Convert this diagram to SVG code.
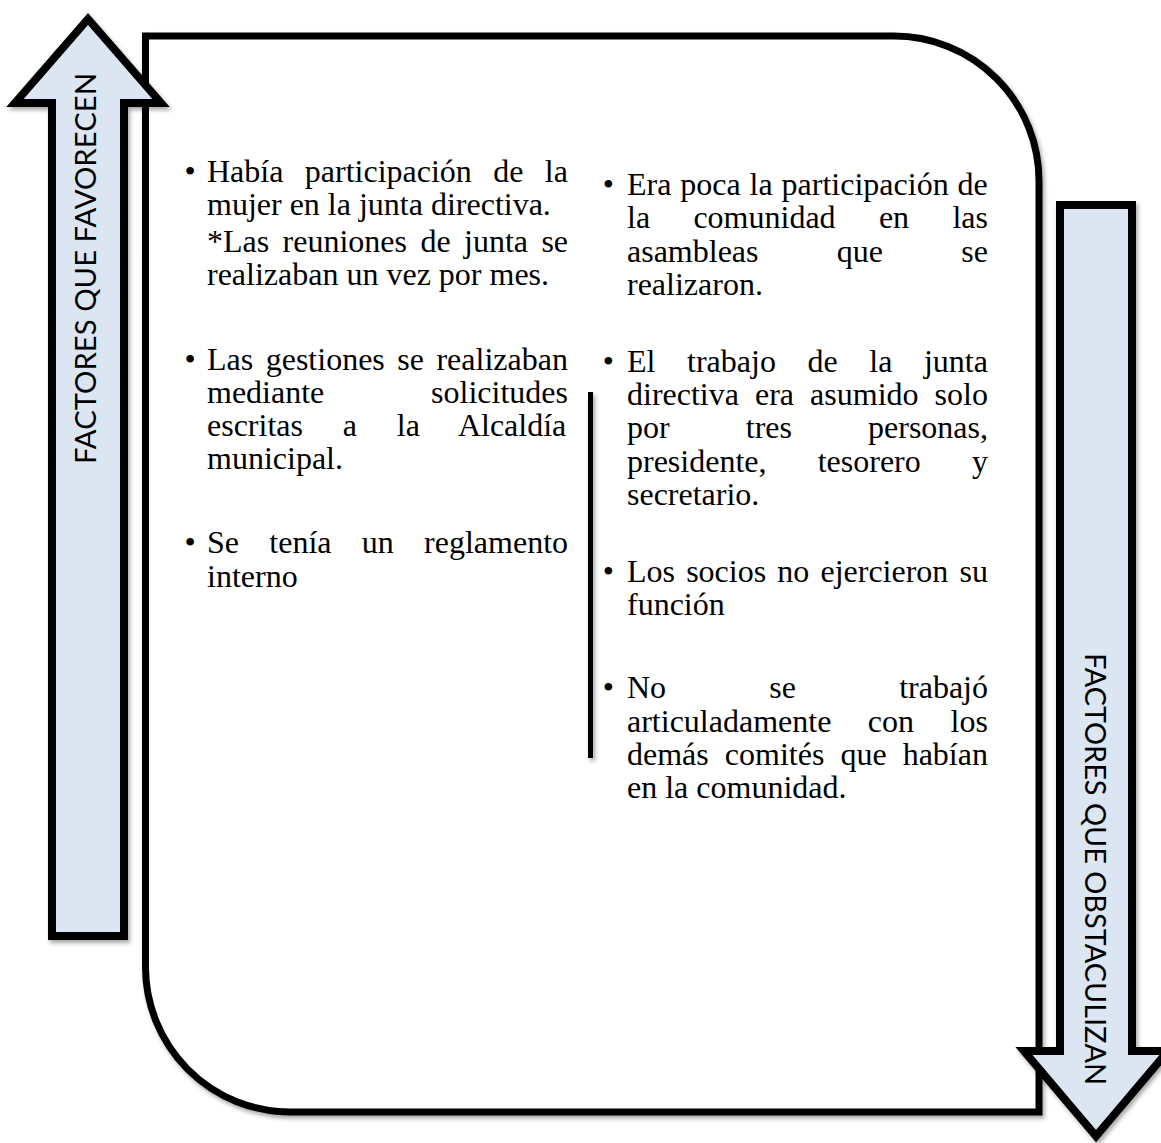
<svg xmlns="http://www.w3.org/2000/svg" width="1161" height="1143" viewBox="0 0 1161 1143">
  <defs>
    <filter id="shadow" x="-10%" y="-10%" width="120%" height="120%">
      <feDropShadow dx="2" dy="3" stdDeviation="2" flood-color="#000" flood-opacity="0.35"/>
    </filter>
    <filter id="shadow-line" filterUnits="userSpaceOnUse" x="570" y="380" width="40" height="400">
      <feDropShadow dx="2" dy="3" stdDeviation="2" flood-color="#000" flood-opacity="0.35"/>
    </filter>
    <style>
      .panel { fill: #ffffff; stroke: #000; stroke-width: 7; filter: url(#shadow); }
      .arrow { fill: #dce6f2; stroke: #000; stroke-width: 8; stroke-linejoin: miter; stroke-miterlimit: 10; filter: url(#shadow); }
      .alabel { font-family: Lato, "Open Sans", sans-serif; font-size: 29px; fill: #000; }
      .body { font-family: "Liberation Serif", "Times New Roman", serif; font-size: 32px; fill: #000; }
      .bullet { font-family: "Liberation Serif", "Times New Roman", serif; font-size: 32px; fill: #000; text-anchor: middle; }
      .divider { fill: #000; stroke: none; filter: url(#shadow-line); }
    </style>
  </defs>
  <rect width="1161" height="1143" fill="#ffffff"/>

  <g id="main-panel">
    <path class="panel" d="M145.5,36 H894 A145,145 0 0 1 1039,181 V1112 H290 A145,145 0 0 1 145.5,967 Z"/>
  </g>

  <g id="arrow-favorecen">
    <polygon class="arrow" points="88,19 161,103 124,103 124,936 52,936 52,103 15,103"/>
    <text class="alabel" transform="translate(96,268.5) rotate(-90)" text-anchor="middle" textLength="391" lengthAdjust="spacingAndGlyphs">FACTORES QUE FAVORECEN</text>
  </g>

  <g id="arrow-obstaculizan">
    <polygon class="arrow" points="1060,205 1132,205 1132,1051 1168,1051 1096,1136 1024,1051 1060,1051"/>
    <text class="alabel" transform="translate(1085,869) rotate(90)" text-anchor="middle" textLength="432" lengthAdjust="spacingAndGlyphs">FACTORES QUE OBSTACULIZAN</text>
  </g>

  <g id="connectors">
    <rect class="divider" x="588" y="392" width="5" height="366"/>
  </g>

  <g id="col-favorecen">
    <text class="bullet" x="190" y="181.7">•</text>
    <text class="body" x="207" y="181.7" word-spacing="13.4">Había participación de la</text>
    <text class="body" x="207" y="214.5">mujer en la junta directiva.</text>
    <text class="body" x="207" y="251.7" word-spacing="5.4">*Las reuniones de junta se</text>
    <text class="body" x="207" y="285">realizaban un vez por mes.</text>

    <text class="bullet" x="190" y="369.5">•</text>
    <text class="body" x="207" y="369.5" word-spacing="4.5">Las gestiones se realizaban</text>
    <text class="body" x="207" y="402.8" word-spacing="98.8">mediante solicitudes</text>
    <text class="body" x="207" y="436.1" word-spacing="31.8">escritas a la Alcaldía</text>
    <text class="body" x="207" y="469.4">municipal.</text>

    <text class="bullet" x="190" y="553.3">•</text>
    <text class="body" x="207" y="553.3" word-spacing="22.3">Se tenía un reglamento</text>
    <text class="body" x="207" y="586.7">interno</text>
  </g>

  <g id="col-obstaculizan">
    <text class="bullet" x="608.3" y="195">•</text>
    <text class="body" x="627" y="195" word-spacing="0.9">Era poca la participación de</text>
    <text class="body" x="627" y="228.3" word-spacing="35.3">la comunidad en las</text>
    <text class="body" x="627" y="261.7" word-spacing="70.3">asambleas que se</text>
    <text class="body" x="627" y="295">realizaron.</text>

    <text class="bullet" x="608.3" y="371.7">•</text>
    <text class="body" x="627" y="371.7" word-spacing="23.6">El trabajo de la junta</text>
    <text class="body" x="627" y="405" word-spacing="8.05">directiva era asumido solo</text>
    <text class="body" x="627" y="438.3" word-spacing="68.1">por tres personas,</text>
    <text class="body" x="627" y="471.7" word-spacing="43.2">presidente, tesorero y</text>
    <text class="body" x="627" y="505">secretario.</text>

    <text class="bullet" x="608.3" y="581.7">•</text>
    <text class="body" x="627" y="581.7" word-spacing="3.15">Los socios no ejercieron su</text>
    <text class="body" x="627" y="615">función</text>

    <text class="bullet" x="608.3" y="698.3">•</text>
    <text class="body" x="627" y="698.3" word-spacing="95.2">No se trabajó</text>
    <text class="body" x="627" y="731.7" word-spacing="28.5">articuladamente con los</text>
    <text class="body" x="627" y="765" word-spacing="8.05">demás comités que habían</text>
    <text class="body" x="627" y="798.3">en la comunidad.</text>
  </g>
</svg>
